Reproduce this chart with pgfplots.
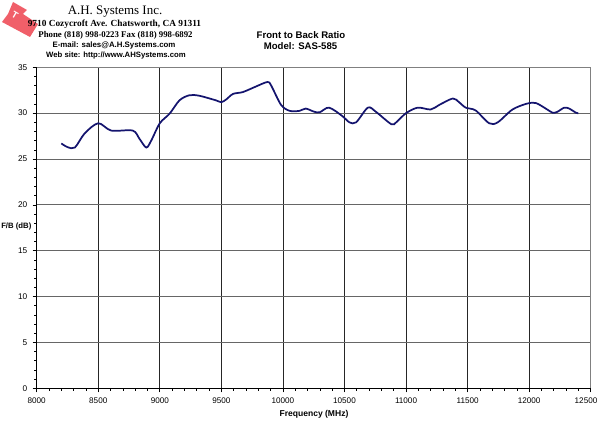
\documentclass[border=0pt]{standalone}
\usepackage{pgfplots}
\pgfplotsset{compat=1.18}
\usepackage{fontspec}
\setmainfont{Liberation Sans}
\newfontfamily\timesf{Liberation Serif}
\definecolor{curve}{RGB}{20,20,110}
\definecolor{logored}{RGB}{240,95,105}
\begin{document}
\begin{tikzpicture}
\path[use as bounding box] (-27.525pt,-26.025pt) rectangle (422.475pt,291.225pt);
\begin{axis}[
  at={(0,0)}, anchor=south west,
  scale only axis, width=415.5pt, height=240.75pt,
  xmin=8000, xmax=12500, ymin=0, ymax=35,
  xtick={8000,8500,...,12500}, ytick={0,5,...,35},
  xticklabels={8000,8500,9000,9500,10000,10500,11000,11500,12000,{\hspace*{-7pt}12500}},
  scaled x ticks=false,
  minor x tick num=4, minor y tick num=4,
  axis lines*=left,
  axis line style={black, line width=0.6pt},
  tick align=outside, tick pos=left,
  major tick length=3pt, minor tick length=2pt,
  tick style={black, line width=0.5pt},
  grid=major,
  x grid style={black!85, line width=0.6pt},
  y grid style={black!60, line width=0.6pt},
  xticklabel style={font=\fontsize{6.1}{7}\selectfont, yshift=-0.5pt},
  yticklabel style={font=\fontsize{6.2}{7}\selectfont, xshift=-0.5pt},
  /pgf/number format/assume math mode=true,
  /pgf/number format/1000 sep={},
  clip=false,
]
\addplot[curve, line width=1.3pt, smooth, tension=0.5] coordinates {
(8200,26.7) (8250,26.3) (8310,26.25) (8390,27.8) (8500,28.9) (8605,28.1)
(8780,28.1) (8835,27.2) (8890,26.25) (8930,27.0) (9000,28.9) (9080,29.95)
(9160,31.4) (9240,31.95) (9320,31.9) (9455,31.4) (9500,31.2) (9540,31.5)
(9595,32.1) (9675,32.3) (9780,32.9) (9875,33.4) (9905,33.0) (9985,30.9)
(10055,30.25) (10135,30.25) (10185,30.5) (10255,30.15) (10300,30.1) (10375,30.6)
(10485,29.66) (10540,29.0) (10595,29.0) (10690,30.6) (10755,30.15) (10880,28.8)
(10920,29.0) (11000,30.0) (11095,30.6) (11200,30.4) (11270,30.9) (11380,31.6)
(11430,31.2) (11485,30.6) (11565,30.3) (11675,28.9) (11745,29.0) (11865,30.4)
(11985,31.05) (12055,31.1) (12135,30.5) (12190,30.05) (12230,30.15) (12285,30.6)
(12325,30.5) (12380,30.05) (12400,30.0)
};
\draw[black!50, line width=0.6pt] (rel axis cs:0,1) -- (rel axis cs:1,1) -- (rel axis cs:1,0);
\end{axis}
\begin{scope}[shift={(-27.525pt,291.225pt)}, x=0.75pt, y=-0.75pt]
  % logo
  \fill[logored] (13,2) -- (27,10) -- (23,14) -- (38,24) -- (30,37) -- (2,22) -- (8,14) -- cycle;
  \node[white, font=\bfseries\fontsize{7}{7}\selectfont, rotate=-30] at (15,15) {T};
  % header
  \node[font=\timesf\fontsize{9.7}{10}\selectfont] at (115,12) {A.H. Systems Inc.};
  \node[font=\timesf\bfseries\fontsize{7}{8}\selectfont] at (114.5,24) {9710 Cozycroft Ave. Chatsworth, CA 91311};
  \node[font=\timesf\bfseries\fontsize{6.6}{7}\selectfont] at (115.5,35) {Phone (818) 998-0223 Fax (818) 998-6892};
  \node[font=\bfseries\fontsize{5.9}{7}\selectfont] at (114,45.5) {E-mail: sales@A.H.Systems.com};
  \node[font=\bfseries\fontsize{5.8}{7}\selectfont] at (116,56) {Web site: http://www.AHSystems.com};
  % title
  \node[font=\bfseries\fontsize{7.2}{8}\selectfont, align=center] at (301,35) {Front to Back Ratio};
  \node[font=\bfseries\fontsize{7.2}{8}\selectfont, align=center] at (300.5,46) {Model: SAS-585};
  % axis labels
  \node[font=\bfseries\fontsize{5.8}{7}\selectfont, anchor=west, inner sep=0pt] at (1,227) {F/B (dB)};
  \node[font=\bfseries\fontsize{6.4}{7}\selectfont] at (314,414) {Frequency (MHz)};
\end{scope}
\end{tikzpicture}
\end{document}
